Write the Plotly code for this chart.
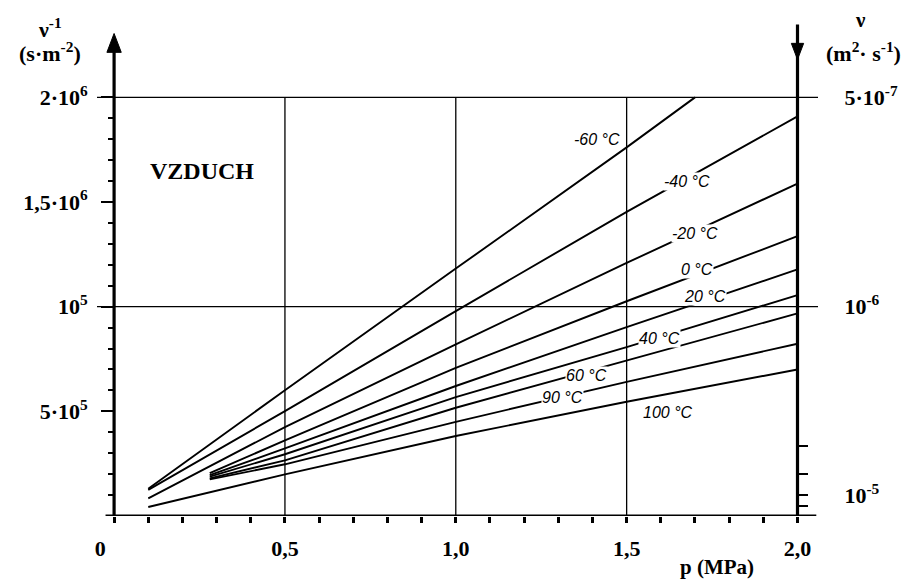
import plotly.graph_objects as go

# ---------------- data ----------------
SCALE = 1e6  # values below are in 10^6 s·m^-2

temps = ["-60", "-40", "-20", "0", "20", "40", "60", "90", "100"]
p_start = [0.10, 0.10, 0.10, 0.28, 0.28, 0.28, 0.28, 0.28, 0.10]
p_mid = [0.5, 1.0, 1.5]
p_end = [1.70, 2.0, 2.0, 2.0, 2.0, 2.0, 2.0, 2.0, 2.0]
inv_nu_start = [0.130, 0.125, 0.084, 0.205, 0.195, 0.188, 0.180, 0.175, 0.043]
inv_nu_p05 = [0.601, 0.501, 0.425, 0.361, 0.323, 0.295, 0.266, 0.247, 0.199]
inv_nu_p10 = [1.182, 0.979, 0.820, 0.708, 0.621, 0.568, 0.517, 0.450, 0.382]
inv_nu_p15 = [1.761, 1.453, 1.209, 1.026, 0.902, 0.807, 0.743, 0.641, 0.546]
inv_nu_end = [2.000, 1.909, 1.588, 1.337, 1.178, 1.055, 0.968, 0.823, 0.700]

# curve label anchors (p, 1/nu)
label_p = [1.412, 1.678, 1.699, 1.705, 1.730, 1.596, 1.383, 1.313, 1.620]
label_v = [1.800, 1.599, 1.351, 1.179, 1.050, 0.850, 0.673, 0.568, 0.496]

x_ticks = [0, 0.5, 1.0, 1.5, 2.0]
x_ticktext = ["0" + "\u00a0" * 5, "0,5", "1,0", "1,5", "2,0"]
y_ticks = [0.5, 1.0, 1.5, 2.0]
y_ticktext = ["5·10<sup>5</sup>", "10<sup>5</sup>", "1,5·10<sup>6</sup>", "2·10<sup>6</sup>"]
nu_ticks = [5e-7, 1e-6, 1e-5]
nu_ticktext = ["5·10<sup>-7</sup>", "10<sup>-6</sup>", "10<sup>-5</sup>"]
nu_minor = [3e-6, 5e-6, 1e-5, 2e-5]
grid_p = [0.5, 1.0, 1.5]
grid_v = [1.0, 2.0]

# ---------------- layout geometry ----------------
W, H = 915, 581
OFF_X, OFF_Y = 8, 7           # page offset of the figure (body margin)
X_RANGE = [-0.05, 2.06]
Y_RANGE = [0, 2.36 * SCALE]
PL, PR, PT, PB = 97, 818.5, 20.6, 515   # plot-area edges on the page
ML, MT = PL - OFF_X, PT - OFF_Y
MR, MB = W - (PR - OFF_X), H - (PB - OFF_Y)
PW = PR - PL
PH = PB - PT


def fx(px):
    return (px - PL) / PW


def fy(py):
    return (PB - py) / PH


def xpos(p):
    return (p - X_RANGE[0]) / (X_RANGE[1] - X_RANGE[0])


SERIF = "Liberation Serif"
SANS = "Liberation Sans"

fig = go.Figure()

for i, t in enumerate(temps):
    xs = [p_start[i]] + p_mid + [p_end[i]]
    ys = [v * SCALE for v in [inv_nu_start[i], inv_nu_p05[i], inv_nu_p10[i], inv_nu_p15[i], inv_nu_end[i]]]
    fig.add_trace(go.Scatter(x=xs, y=ys, mode="lines", line=dict(color="black", width=1.9),
                             name=t + " °C", showlegend=False, hoverinfo="skip"))

# dummy trace for the right axis
fig.add_trace(go.Scatter(x=[None], y=[None], yaxis="y2", showlegend=False))

shapes = []
for p in grid_p:
    shapes.append(dict(type="line", xref="x", yref="y", x0=p, x1=p, y0=0, y1=2.0 * SCALE,
                       line=dict(color="black", width=1.3)))
for v in grid_v:
    shapes.append(dict(type="line", xref="x", yref="y", x0=X_RANGE[0], x1=X_RANGE[1],
                       y0=v * SCALE, y1=v * SCALE, line=dict(color="black", width=1.3)))
shapes.append(dict(type="line", xref="x", yref="y", x0=-0.025, x1=2.055, y0=0, y1=0,
                   line=dict(color="black", width=3.2)))
shapes.append(dict(type="line", xref="x", yref="y", x0=0, x1=0, y0=0, y1=2.25 * SCALE,
                   line=dict(color="black", width=3.2)))
shapes.append(dict(type="line", xref="x", yref="y", x0=2.0, x1=2.0, y0=0, y1=2.348 * SCALE,
                   line=dict(color="black", width=3.2)))
shapes.append(dict(type="path", xref="x", yref="y",
                   path=f"M {-0.021} {2.215*SCALE} L 0 {2.305*SCALE} L {0.021} {2.215*SCALE} Z",
                   fillcolor="black", line=dict(color="black", width=1)))
shapes.append(dict(type="path", xref="x", yref="y",
                   path=f"M {2.0-0.018} {2.258*SCALE} L 2.0 {2.181*SCALE} L {2.0+0.018} {2.258*SCALE} Z",
                   fillcolor="black", line=dict(color="black", width=1)))

annotations = []
for i, t in enumerate(temps):
    annotations.append(dict(x=label_p[i], y=label_v[i] * SCALE, xref="x", yref="y",
                            xanchor="center", yanchor="middle",
                            text=f"<i>{t} °C</i>", showarrow=False,
                            font=dict(family=SANS, size=16, color="black"),
                            bgcolor="white", borderpad=0))


def txt(px, py, text, size):
    return dict(x=fx(px), y=fy(py), xref="paper", yref="paper", xanchor="center",
                yanchor="middle", text=text, showarrow=False,
                font=dict(family=SERIF, size=size, color="black", weight="bold"))


annotations += [
    txt(50, 27, "ν<sup>-1</sup>", 22),
    txt(50, 51, "(s·m<sup>-2</sup>)", 22),
    txt(861, 19, "ν", 21),
    txt(864, 51, "(m<sup>2</sup>· s<sup>-1</sup>)", 22),
    txt(717, 566, "p (MPa)", 21),
    txt(202, 170, "VZDUCH", 24),
]

tick_font = dict(family=SERIF, size=22, color="black", weight="bold")

fig.update_layout(
    width=W, height=H,
    margin=dict(l=ML, r=MR, t=MT, b=MB, autoexpand=False),
    paper_bgcolor="white", plot_bgcolor="white",
    shapes=shapes, annotations=annotations,
    xaxis=dict(range=X_RANGE, showgrid=False, zeroline=False, showline=False,
               tickmode="array", tickvals=x_ticks, ticktext=x_ticktext,
               ticks="outside", ticklen=6, tickwidth=2.5, tickcolor="black",
               tickfont=tick_font, ticklabelstandoff=7,
               minor=dict(tickmode="array", tickvals=[k / 10 for k in range(1, 20) if k % 5],
                          ticks="outside", ticklen=6, tickwidth=2.5, tickcolor="black",
                          showgrid=False)),
    yaxis=dict(range=Y_RANGE, showgrid=False, zeroline=False, showline=False,
               anchor="free", position=xpos(0.0),
               tickmode="array", tickvals=[v * SCALE for v in y_ticks], ticktext=y_ticktext,
               ticks="outside", ticklen=13, tickwidth=2, tickcolor="black",
               tickfont=tick_font, ticklabelstandoff=9,
               minor=dict(tickmode="array",
                          tickvals=[k * 0.1 * SCALE for k in range(1, 20) if k % 5],
                          ticks="outside", ticklen=6, tickwidth=2, tickcolor="black",
                          showgrid=False)),
    yaxis2=dict(range=Y_RANGE, overlaying="y", side="right", anchor="free",
                position=xpos(2.0), showgrid=False, zeroline=False, showline=False,
                tickmode="array", tickvals=[1 / n for n in nu_ticks], ticktext=nu_ticktext,
                ticks="", tickfont=tick_font, ticklabelstandoff=46,
                minor=dict(tickmode="array", tickvals=[1 / n for n in nu_minor],
                           ticks="outside", ticklen=10, tickwidth=2, tickcolor="black",
                           showgrid=False)),
)

fig.write_html("out.html")
